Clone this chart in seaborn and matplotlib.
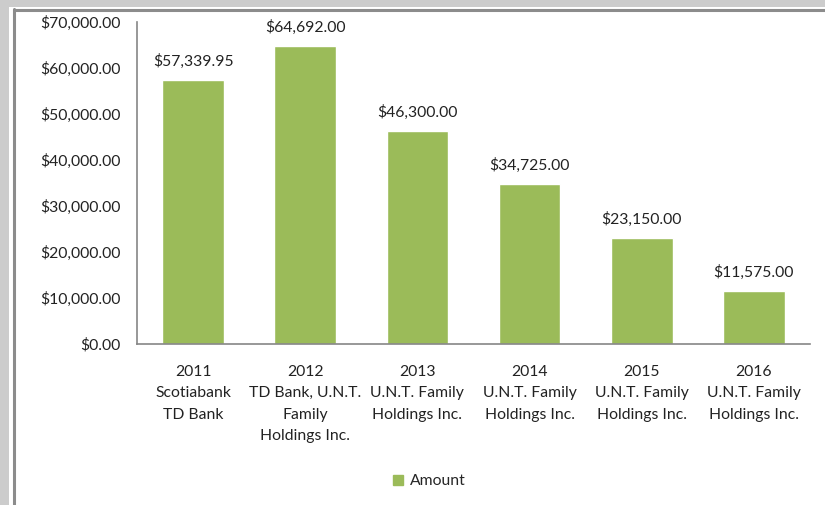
import matplotlib
matplotlib.use('Agg')
import matplotlib.pyplot as plt
import seaborn as sns
import pandas as pd
from matplotlib.patches import Rectangle
from matplotlib.lines import Line2D

# --- data ---
years = ["2011", "2012", "2013", "2014", "2015", "2016"]
lenders = [
    "Scotiabank\nTD Bank",
    "TD Bank, U.N.T.\nFamily\nHoldings Inc.",
    "U.N.T. Family\nHoldings Inc.",
    "U.N.T. Family\nHoldings Inc.",
    "U.N.T. Family\nHoldings Inc.",
    "U.N.T. Family\nHoldings Inc.",
]
amounts = [57339.95, 64692.00, 46300.00, 34725.00, 23150.00, 11575.00]
y_ticks = [0, 10000, 20000, 30000, 40000, 50000, 60000, 70000]

labels = [f"{y}\n{l}" for y, l in zip(years, lenders)]
df = pd.DataFrame({"label": labels, "Amount": amounts})

GREEN = "#9BBB59"
TXT = "#222222"
FS = 11.3

sns.set_style("white")
plt.rcParams['font.family'] = ['Lato', 'DejaVu Sans']

fig = plt.figure(figsize=(8.25, 5.05), dpi=100)
fig.patch.set_facecolor("white")
ax = fig.add_axes([137 / 825, 1 - 344 / 505, 673 / 825, 322 / 505])

sns.barplot(data=df, x="label", y="Amount", color=GREEN, width=0.55,
            saturation=1, ax=ax, label="Amount")

ax.set_ylim(0, 70000)
ax.set_xlim(-0.5, len(labels) - 0.5)
ax.set_yticks(y_ticks)
ax.set_yticklabels([f"${v:,.2f}" for v in y_ticks], fontsize=FS, color=TXT)
ax.set_xticks(range(len(labels)))
ax.set_xticklabels(labels, fontsize=FS, color=TXT, linespacing=1.68, va="top")
ax.tick_params(axis="y", length=0, pad=12)
ax.tick_params(axis="x", length=0, pad=15)
ax.set_xlabel("")
ax.set_ylabel("")

for s in ["top", "right"]:
    ax.spines[s].set_visible(False)
for s in ["left", "bottom"]:
    ax.spines[s].set_color("#868686")
    ax.spines[s].set_linewidth(1.2)

for c in ax.containers:
    ax.bar_label(c, labels=[f"${v:,.2f}" for v in amounts], padding=8,
                 fontsize=FS, color=TXT)

ax.legend(handles=[Line2D([], [], marker="s", linestyle="", color=GREEN, markersize=7)],
          labels=["Amount"], loc="center", bbox_to_anchor=(428 / 825, 1 - 481 / 505),
          bbox_transform=fig.transFigure, frameon=False, fontsize=FS,
          handletextpad=0.3, handlelength=1.0)

# gray frame around the picture (left and top edges)
W, H = 825, 505
fig.patches.append(Rectangle((0, 0), 9 / W, 1, transform=fig.transFigure,
                             facecolor="#CCCCCC", edgecolor="none", zorder=0))
fig.patches.append(Rectangle((0, 1 - 7 / H), 1, 7 / H, transform=fig.transFigure,
                             facecolor="#CCCCCC", edgecolor="none", zorder=0))
fig.lines.append(Line2D([14.5 / W, 14.5 / W], [0, 1 - 9 / H], transform=fig.transFigure,
                        color="#8C8C8C", linewidth=2.2))
fig.lines.append(Line2D([14 / W, 1], [1 - 9.5 / H, 1 - 9.5 / H], transform=fig.transFigure,
                        color="#8C8C8C", linewidth=2.2))

fig.savefig("out.png", dpi=100)
